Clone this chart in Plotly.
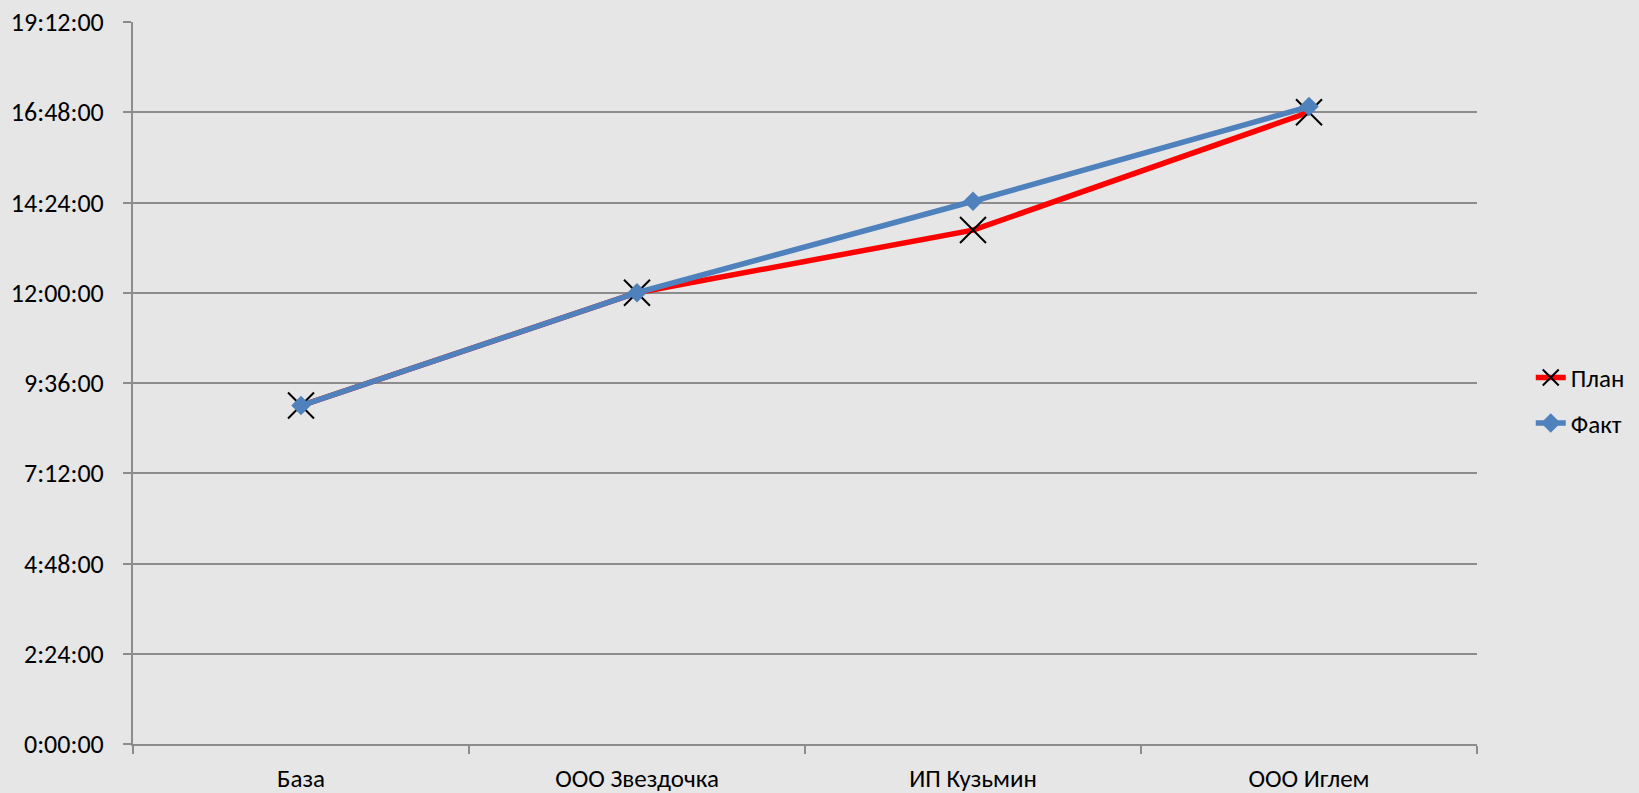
import plotly.graph_objects as go

categories = ["База", "ООО Звездочка", "ИП Кузьмин", "ООО Иглем"]
plan_times = ["9:00:00", "12:00:00", "13:40:00", "16:48:00"]
fact_times = ["9:00:00", "12:00:00", "14:26:00", "16:57:00"]
y_tick_labels = ["0:00:00", "2:24:00", "4:48:00", "7:12:00", "9:36:00",
                 "12:00:00", "14:24:00", "16:48:00", "19:12:00"]


def to_hours(t):
    h, m, s = (int(p) for p in t.split(":"))
    return h + m / 60 + s / 3600


plan = [to_hours(t) for t in plan_times]
fact = [to_hours(t) for t in fact_times]
y_tick_vals = [to_hours(t) for t in y_tick_labels]

FONT = "Calibri, Carlito, Lato, sans-serif"
GRID = "#8c8c8c"
BG = "#e6e6e6"
FS = 26

fig = go.Figure()
fig.add_trace(go.Scatter(
    x=categories, y=plan, name="План", mode="lines+markers",
    legendgroup="p",
    line=dict(color="#ff0000", width=5.5),
    marker=dict(symbol="x-thin-open", size=26, color="black",
                line=dict(color="black", width=2)),
))
fig.add_trace(go.Scatter(
    x=categories, y=fact, name="Факт", mode="lines+markers",
    legendgroup="f",
    line=dict(color="#4f81bd", width=5.5),
    marker=dict(symbol="diamond", size=15, color="#4f81bd"),
))

fig.update_layout(
    width=1639, height=793,
    paper_bgcolor=BG, plot_bgcolor=BG,
    margin=dict(l=133, r=162, t=22, b=49, pad=0, autoexpand=False),
    font=dict(family=FONT, size=FS, color="black"),
    showlegend=True,
    legend=dict(
        x=1.04, y=0.476, xanchor="left", yanchor="middle",
        bgcolor="rgba(0,0,0,0)", font=dict(size=FS - 1, family=FONT),
        traceorder="grouped", tracegroupgap=10,
    ),
)
fig.update_xaxes(
    type="category", range=[-0.5, 3.5], automargin=False,
    showgrid=False, showline=True, linecolor=GRID,
    linewidth=2, ticks="outside", tickson="boundaries", ticklen=8,
    tickcolor=GRID, tickwidth=2, ticklabelstandoff=11,
    tickfont=dict(size=FS - 1, family=FONT), zeroline=False,
)
fig.update_yaxes(
    range=[0, 19.2], automargin=False, tickmode="array", tickvals=y_tick_vals,
    ticktext=y_tick_labels, showgrid=True, gridcolor=GRID, gridwidth=2,
    showline=True, linecolor=GRID, linewidth=2, ticks="outside",
    ticklen=8, tickcolor=GRID, tickwidth=2, ticklabelstandoff=14,
    tickfont=dict(size=FS, family=FONT), zeroline=False,
)

fig.write_html(
    "out.html",
    config={"displayModeBar": False},
    post_script="document.body.style.margin='0';"
                "document.body.style.background='#e6e6e6';",
)
